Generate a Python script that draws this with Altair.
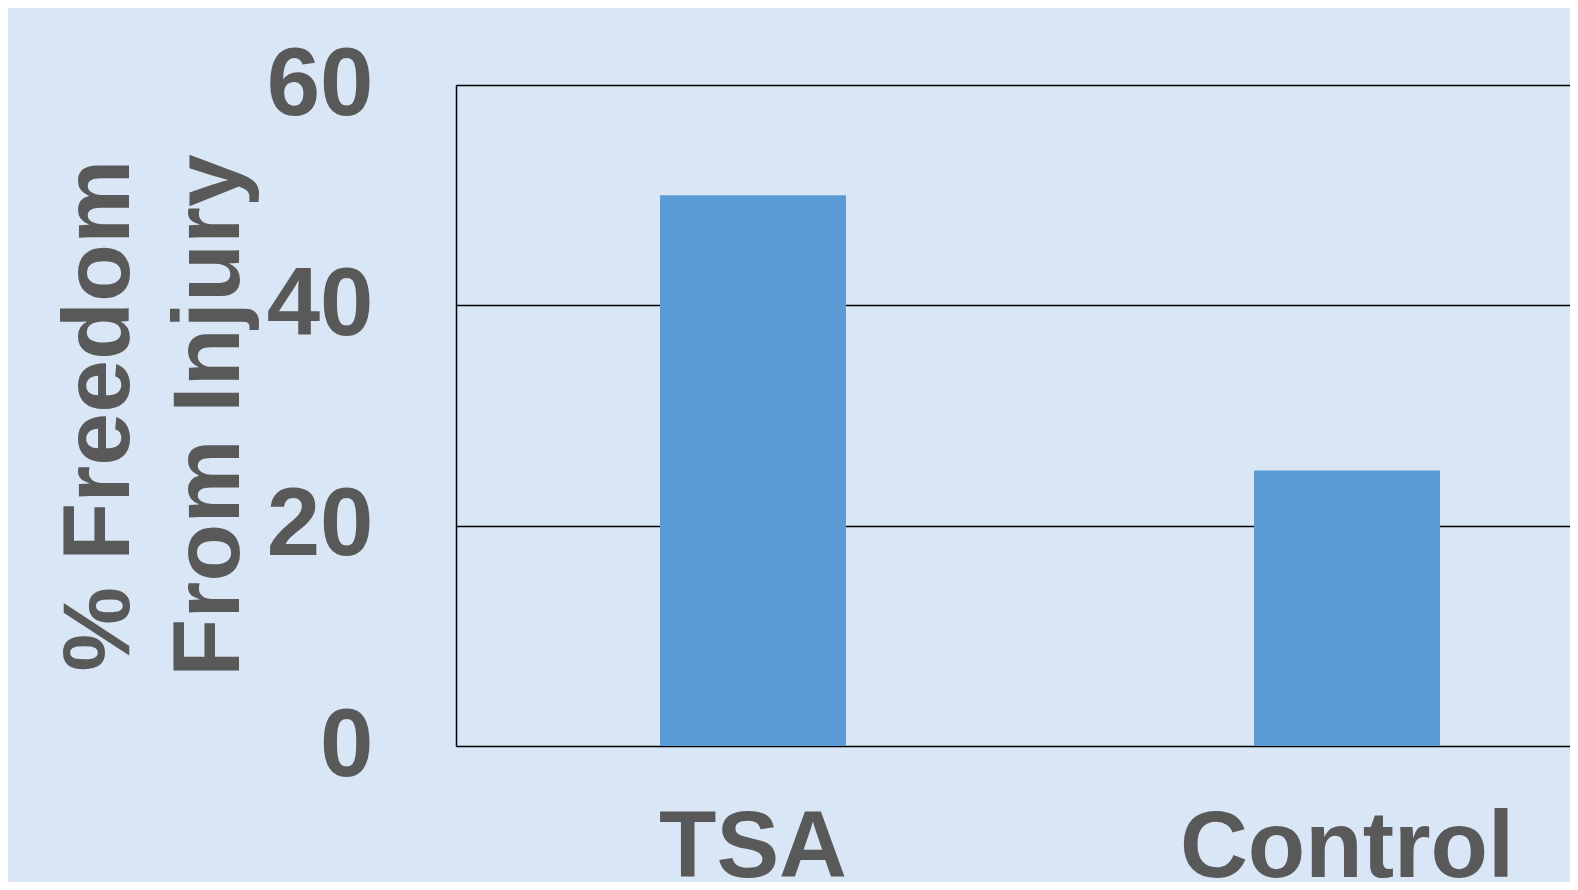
import altair as alt
import pandas as pd

groups = ["TSA", "Control"]
freedom_pct = [50, 25]
y_ticks = [0, 20, 40, 60]
y_title = ["% Freedom", "From Injury"]

df = pd.DataFrame({"group": groups, "pct": freedom_pct})

FONT = "Liberation Sans"
GRAY = "#595959"

chart = (
    alt.Chart(df)
    .mark_bar(color="#5b9bd5")
    .encode(
        x=alt.X(
            "group:N",
            sort=groups,
            scale=alt.Scale(paddingInner=0.687, paddingOuter=0.3435, range=[0, 1188]),
            axis=alt.Axis(
                title=None,
                labelAngle=0,
                ticks=False,
                domain=False,
                grid=False,
                labelFontSize=94,
                labelFont=FONT,
                labelFontWeight="bold",
                labelColor=GRAY,
                labelPadding=56,
                labelLimit=0,
            ),
        ),
        y=alt.Y(
            "pct:Q",
            scale=alt.Scale(domain=[0, 60], nice=False, zero=True),
            axis=alt.Axis(
                values=y_ticks,
                title=y_title,
                titleFont=FONT,
                titleFontSize=95,
                titleFontWeight="bold",
                titleColor=GRAY,
                titleAngle=270,
                titleAlign="center",
                titleBaseline="alphabetic",
                titleLineHeight=110,
                titleX=-328,
                titleY=330,
                ticks=False,
                labelFont=FONT,
                labelFontSize=96,
                labelFontWeight="bold",
                labelColor=GRAY,
                labelPadding=83,
                labelLimit=0,
                grid=True,
                gridColor="black",
                gridWidth=1.5,
                gridOpacity=1,
                domain=True,
                domainColor="black",
                domainWidth=1.5,
            ),
        ),
    )
    .properties(
        width=1114,
        height=661,
        autosize=alt.AutoSizeParams(type="none"),
        padding={"left": 448, "top": 77, "right": 0, "bottom": 136},
    )
    .configure(background="#d8e6f6")
    .configure_view(strokeOpacity=0, fill="#d8e6f6")
)

chart.save("out.html", embed_options={"renderer": "svg", "actions": False})
